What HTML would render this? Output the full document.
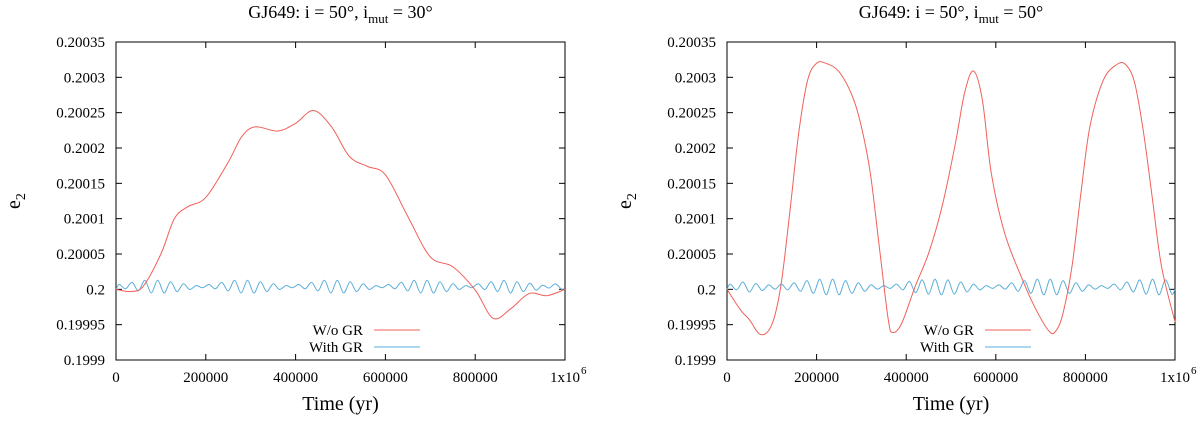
<!DOCTYPE html>
<html><head><meta charset="utf-8"><style>
body{margin:0;background:#fff}
svg text{font-family:"Liberation Serif",serif;fill:#000}
</style></head><body>
<svg id="chart" width="1200" height="417" viewBox="0 0 1200 417"></svg>
<script>
const yTicks=[0.1999,0.19995,0.2,0.20005,0.2001,0.20015,0.2002,0.20025,0.2003,0.20035];
const yTickLabels=["0.1999","0.19995","0.2","0.20005","0.2001","0.20015","0.2002","0.20025","0.2003","0.20035"];
const xTicks=[0,200000,400000,600000,800000,1000000];
const xTickLabels=["0","200000","400000","600000","800000","1x10"];
const redLT=[0,0.03,0.06,0.1,0.13,0.16,0.2,0.25,0.28,0.31,0.36,0.4,0.44,0.48,0.52,0.56,0.6,0.65,0.7,0.75,0.8,0.84,0.88,0.92,0.96,1.0];
const redLV=[0.2,0.199997,0.200004,0.20005,0.2001,0.200117,0.20013,0.20018,0.200216,0.20023,0.200224,0.200235,0.200253,0.20023,0.200188,0.200174,0.200162,0.200103,0.200046,0.200032,0.199999,0.199959,0.199973,0.199994,0.199991,0.2];
const redRT=[0,0.03,0.05,0.075,0.1,0.12,0.14,0.16,0.18,0.2,0.22,0.25,0.28,0.3,0.32,0.34,0.36,0.37,0.39,0.42,0.45,0.48,0.51,0.53,0.55,0.57,0.59,0.62,0.66,0.69,0.72,0.735,0.75,0.77,0.79,0.81,0.84,0.87,0.89,0.91,0.93,0.95,0.97,1.0];
const redRV=[0.2,0.199971,0.199957,0.199936,0.19995,0.200004,0.200108,0.200221,0.200296,0.20032,0.20032,0.200308,0.200273,0.20023,0.200164,0.20006,0.199957,0.199939,0.199952,0.200004,0.200051,0.200117,0.200207,0.200277,0.200309,0.200268,0.200164,0.200079,0.200013,0.199971,0.19994,0.199942,0.199966,0.200032,0.200136,0.20023,0.200296,0.200318,0.200318,0.200292,0.200221,0.200126,0.200032,0.199954];
// blue oscillation extrema, offsets from 0.2 in units of 1e-6
const blueLPeaks=[6.8,9.8,12.8,12.8,10.8,7.8,5.3,6.8,9.8,12.8,12.8,10.8,7.8,5.3,6.8,9.8,12.8,12.8,10.8,7.8,5.3,6.8,9.8,12.8,12.8,10.8,7.8,5.3,7.8,10.8,12.8,10.8,8.8,5.8,7.8];
const blueLTroughs=[0.8,-2.2,-5.2,-5.2,-3.2,-0.2,2.3,0.8,-2.2,-5.2,-5.2,-3.2,-0.2,2.3,0.8,-2.2,-5.2,-5.2,-3.2,-0.2,2.3,0.8,-2.2,-5.2,-5.2,-3.2,-0.2,2.3,-0.2,-3.2,-5.2,-3.2,-1.2,1.8,-0.2];
const blueRPeaks=[7.3,10.3,8.3,6.3,7.3,9.3,12.3,14.3,14.3,12.3,9.3,6.3,5.3,7.3,11.3,13.3,14.3,13.3,10.3,7.3,5.3,6.3,9.3,12.3,14.3,14.3,12.3,9.3,6.3,5.3,7.3,10.3,13.3,14.3,13.3];
const blueRTroughs=[-0.7,-3.7,-1.7,0.3,-0.7,-2.7,-5.7,-7.7,-7.7,-5.7,-2.7,0.3,1.3,-0.7,-4.7,-6.7,-7.7,-6.7,-3.7,-0.7,1.3,0.3,-2.7,-5.7,-7.7,-7.7,-5.7,-2.7,0.3,1.3,-0.7,-3.7,-6.7,-7.7,-6.7];

const NS="http://www.w3.org/2000/svg";
const svg=document.getElementById('chart');
function mk(tag,attrs,parent,text){const e=document.createElementNS(NS,tag);for(const k in attrs)e.setAttribute(k,attrs[k]);if(text!==undefined)e.textContent=text;(parent||svg).appendChild(e);return e;}
function smooth(pts){let d=`M${pts[0][0].toFixed(2)},${pts[0][1].toFixed(2)}`;
 for(let i=0;i<pts.length-1;i++){const p0=pts[i-1]||pts[i],p1=pts[i],p2=pts[i+1],p3=pts[i+2]||p2;
  const c1=[p1[0]+(p2[0]-p0[0])/6,p1[1]+(p2[1]-p0[1])/6],c2=[p2[0]-(p3[0]-p1[0])/6,p2[1]-(p3[1]-p1[1])/6];
  d+=`C${c1[0].toFixed(2)},${c1[1].toFixed(2)} ${c2[0].toFixed(2)},${c2[1].toFixed(2)} ${p2[0].toFixed(2)},${p2[1].toFixed(2)}`;}
 return d;}

function panel(x0,x1,mut,redT,redV,bP,bT,legX,name){
 const y0=42,y1=360;
 const g=mk('g',{});
 
 
 const X=v=>x0+(v/1e6)*(x1-x0);
 const Y=v=>y1-(v-0.1999)/0.00045*(y1-y0);
 const t=mk('text',{x:(x0+x1)/2,y:18,'text-anchor':'middle','font-size':18},g);
 
 
 t.innerHTML=`GJ649: i = 50°, i<tspan font-size="13" dy="5">mut</tspan><tspan dy="-5"> = ${mut}°</tspan>`;
 yTicks.forEach((v,i)=>{
  const yy=Y(v);
  mk('line',{x1:x0,x2:x0+6,y1:yy,y2:yy,stroke:'#000','stroke-width':1},g);
  mk('line',{x1:x1-6,x2:x1,y1:yy,y2:yy,stroke:'#000','stroke-width':1},g);
  const l=mk('text',{x:x0-11,y:yy+5,'text-anchor':'end','font-size':15},g,yTickLabels[i]);
  
  
 });
 xTicks.forEach((v,i)=>{
  const xx=X(v);
  mk('line',{x1:xx,x2:xx,y1:y1,y2:y1-6,stroke:'#000','stroke-width':1},g);
  mk('line',{x1:xx,x2:xx,y1:y0,y2:y0+6,stroke:'#000','stroke-width':1},g);
  const l=mk('text',{x:xx,y:y1+22,'text-anchor':'middle','font-size':15},g,xTickLabels[i]);
  
  
  if(i===5){const s=mk('text',{x:xx+16,y:y1+14,'font-size':11},g,'6');}
 });
 const frame=mk('rect',{x:x0,y:y0,width:x1-x0,height:y1-y0,fill:'none',stroke:'#000','stroke-width':1},g);
 
 
 const n=bP.length,pts=[[X(0),Y(0.2)]];
 for(let k=0;k<n;k++){
  pts.push([X((k+0.25)/n*1e6),Y(0.2+bP[k]*1e-6)]);
  pts.push([X((k+0.75)/n*1e6),Y(0.2+bT[k]*1e-6)]);
 }
 pts.push([X(1e6),Y(0.2)]);
 const bl=mk('path',{d:smooth(pts),fill:'none',stroke:'#5aaed8','stroke-width':1},g);
 
 
 const rp=redT.map((tt,i)=>[X(tt*1e6),Y(redV[i])]);
 const rl=mk('path',{d:smooth(rp),fill:'none',stroke:'#f0605a','stroke-width':1},g);
 
 
 const l1=mk('text',{x:legX,y:335,'text-anchor':'end','font-size':15},g,'W/o GR');
 
 
 mk('line',{x1:legX+11,x2:legX+57,y1:330,y2:330,stroke:'#f0605a','stroke-width':1},g);
 const l2=mk('text',{x:legX,y:352,'text-anchor':'end','font-size':15},g,'With GR');
 
 
 mk('line',{x1:legX+11,x2:legX+57,y1:347,y2:347,stroke:'#5aaed8','stroke-width':1},g);
 const xt=mk('text',{x:(x0+x1)/2,y:410,'text-anchor':'middle','font-size':20},g,'Time (yr)');
 
 
 const yt=mk('text',{x:0,y:0,'font-size':20,transform:`translate(${x0-96},${(y0+y1)/2}) rotate(-90)`,'text-anchor':'middle'},g);
 
 
 yt.innerHTML='e<tspan font-size="14" dy="5">2</tspan>';
}
panel(116,565,'30',redLT,redLV,blueLPeaks,blueLTroughs,363,'left-panel');
panel(727,1175,'50',redRT,redRV,blueRPeaks,blueRTroughs,974,'right-panel');
</script>
</body></html>
